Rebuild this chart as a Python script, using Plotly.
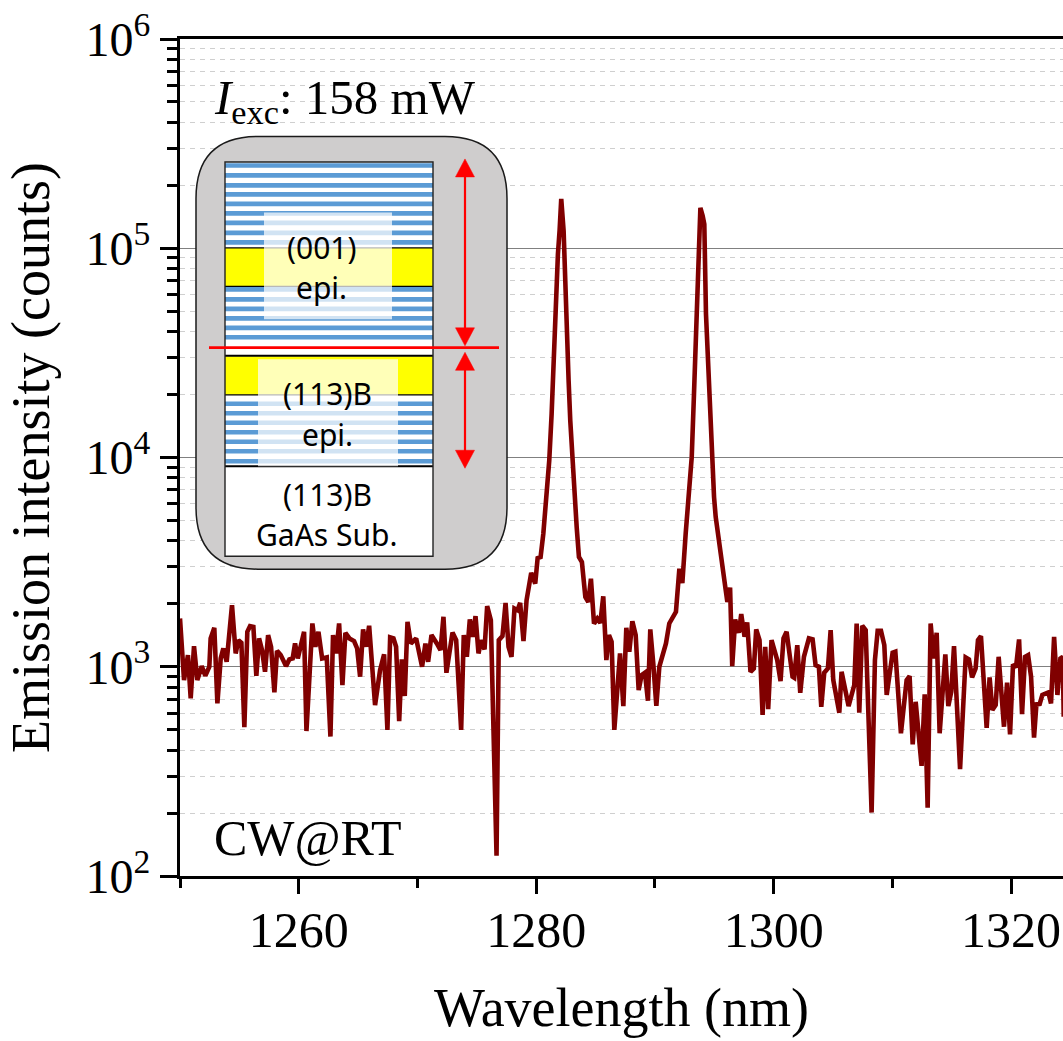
import plotly.graph_objects as go

wavelength_nm = [
1250.00,1250.34,1250.67,1250.90,1251.18,1251.46,1251.83,1252.13,1252.47,1252.58,1252.89,1253.15,1253.43,1253.65,1253.93,
1254.38,1254.69,1254.92,1255.17,1255.42,1255.67,1255.90,1256.18,1256.43,1256.66,1256.91,1257.16,1257.42,1257.67,1257.95,
1258.17,1258.48,1258.93,1259.21,1259.49,1259.69,1259.92,1260.45,1260.65,1261.15,1261.40,1261.66,1261.97,1262.36,1262.67,
1262.89,1263.15,1263.40,1263.68,1263.93,1264.27,1264.66,1264.92,1265.17,1265.42,1265.67,1265.93,1266.43,1266.85,1267.19,
1267.47,1267.70,1267.98,1268.20,1268.46,1268.68,1268.93,1269.16,1269.44,1269.89,1270.39,1270.67,1270.90,1271.18,1271.63,
1271.94,1272.19,1272.44,1272.95,1273.26,1273.68,1273.90,1274.16,1274.41,1274.66,1274.89,1275.14,1275.37,1275.65,1275.87,
1276.18,1276.66,1276.85,1277.16,1277.42,1277.67,1277.92,1278.17,1278.43,1278.65,1278.93,1279.19,1279.58,1279.92,
1280.12,1280.37,1280.60,1280.88,1281.10,1281.30,1281.50,1281.66,1281.83,1281.97,1282.11,1282.31,1282.42,1282.59,1282.73,
1282.87,1283.04,1283.21,1283.41,1283.60,1283.85,1284.14,1284.39,1284.61,1284.87,1285.15,1285.40,1285.65,1285.91,1286.13,
1286.35,1286.58,1287.06,1287.34,1287.59,1287.84,1288.10,1288.38,1288.63,1288.88,1289.16,1289.41,1289.61,1289.86,1290.12,
1290.37,1290.65,1290.93,1291.21,1291.44,1291.77,1292.06,1292.31,1292.59,1292.87,1293.10,1293.29,1293.46,1293.63,1293.83,
1294.02,1294.16,1294.30,1294.47,1294.64,1294.81,1294.98,1295.12,1295.37,1295.63,1295.91,1296.10,1296.33,1296.51,1296.76,
1297.07,1297.27,1297.55,1297.77,1298.05,1298.33,1298.53,1298.81,1299.07,1299.29,1299.54,1299.82,1300.30,1300.58,1300.83,
1301.09,1301.59,1301.73,1301.99,1302.24,1302.55,1302.97,1303.28,1303.53,1303.81,1304.01,1304.26,1304.57,1304.80,1305.02,
1305.53,1305.72,1306.31,1306.79,1306.99,1307.21,1307.46,1307.75,1308.25,1308.53,1308.76,1309.04,1309.32,1309.52,1310.02,
1310.25,1310.72,1311.20,1311.45,1311.71,1311.96,1312.46,1312.72,1312.97,1313.22,1313.48,1313.73,1313.98,1314.46,1314.71,
1314.96,1315.19,1315.70,1316.17,1316.45,1316.71,1317.01,1317.21,1317.46,1317.94,1318.19,1318.42,1318.70,1318.95,1319.40,
1319.66,1319.91,1320.16,1320.41,1320.67,1320.92,1321.17,1321.43,1321.68,1321.93,1322.13,1322.41,1322.63,1323.14,1323.36,
1323.62,1323.90,1324.15,1324.35,1324.43]

intensity_counts = [
1701,864,1137,706,1255,864,1007,905,1000,1366,1535,668,1096,1223,1056,
1969,1158,1341,1302,514,1470,1564,1552,905,1366,1201,946,1417,1246,754,
1192,1137,1007,1084,1096,1292,1096,1470,493,1610,1246,1470,1096,1108,464,
1417,1158,1610,818,1453,1366,1326,1223,896,1508,1246,1570,656,964,1145,
499,1381,1366,1246,550,1084,725,1640,1292,1366,1000,1292,1056,1417,1292,
1201,1733,936,1458,1341,499,1417,1116,1682,1391,1745,1158,1341,1210,1947,
1670,125,1341,1401,2020,1246,1116,1898,1864,2020,1326,2080,2813,2497,
3307,3345,4321,6960,9675,16160,33630,58260,93800,121200,172000,121200,69960,40390,23310,
15010,9675,6467,4650,3345,3165,2154,2039,2635,1607,1698,1619,2170,1076,1417,
1316,499,1158,649,1535,1180,1650,1417,774,912,936,688,1508,1037,651,
1000,1116,1292,1610,1701,1829,2942,2513,4321,6467,10040,20130,40390,93800,156000,
142900,130400,48500,30110,14470,10040,6467,5190,4091,2995,2405,2039,2387,1007,1682,
1453,1784,1391,1628,946,982,1508,1341,588,1246,628,1341,1076,854,1366,
1470,896,886,1269,751,1116,1366,1351,1018,1000,644,936,982,1497,864,
603,946,649,818,1610,603,1570,1497,201,1076,1486,1486,1269,733,1166,
1179,481,864,903,426,680,336,738,212,1610,1096,1453,481,1145,649,
760,1255,324,1108,1084,889,982,1341,1401,511,889,621,656,1116,517,
839,475,1026,993,1351,594,1116,1137,896,458,661,664,733,754,668,
1391,733,1096,1116,577]

x_tick_values = [1260, 1280, 1300, 1320]
y_tick_values = [1e2, 1e3, 1e4, 1e5, 1e6]
x_title = "Wavelength (nm)"
y_title = "Emission intensity (counts)"
power_label = "<i>I</i><sub>exc</sub>: 158 mW"
condition_label = "CW@RT"

W, H = 1063, 1041
L, R, T, B = 180, 1063, 38.5, 876
SERIF = "Liberation Serif"
INSET = "Noto Sans"

def fx(p): return (p - L) / (R - L)
def fy(p): return (B - p) / (B - T)

def rect(x0, y0, x1, y1, fill, line=None, lw=0, opacity=1):
    return dict(type="rect", xref="paper", yref="paper", layer="above",
                x0=fx(x0), x1=fx(x1), y0=fy(y0), y1=fy(y1), fillcolor=fill, opacity=opacity,
                line=dict(color=line or fill, width=lw))

def path(pts, fill=None, color="black", lw=1.5):
    d = ""
    for i, p in enumerate(pts):
        if p[0] == "Q":
            d += f" Q {fx(p[1]):.5f},{fy(p[2]):.5f} {fx(p[3]):.5f},{fy(p[4]):.5f}"
        else:
            d += f" {'M' if i == 0 else 'L'} {fx(p[0]):.5f},{fy(p[1]):.5f}"
    return dict(type="path", xref="paper", yref="paper", layer="above", path=d + (" Z" if fill else ""),
                fillcolor=fill or "rgba(0,0,0,0)", line=dict(color=color, width=lw))

x0, x1, y0, y1, r = 196, 507, 136, 569, 62
shapes = [path([(x0 + r, y0), (x1 - r, y0), ("Q", x1, y0, x1, y0 + r), (x1, y1 - r), ("Q", x1, y1, x1 - r, y1),
                (x0 + r, y1), ("Q", x0, y1, x0, y1 - r), (x0, y0 + r), ("Q", x0, y0, x0 + r, y0)],
               fill="#CFCDCD", color="#1a1a1a", lw=1.5)]
shapes.append(rect(225, 161.5, 433, 556, "white"))
BLUE = "#5B9BD5"
for c in [165, 175, 185, 194, 203.5, 213, 222.5, 232.5, 242,
          289, 299, 308.5, 318, 327.5, 337,
          403.5, 413, 422.5, 432, 441.5, 451, 461]:
    shapes.append(rect(225, c - 2.3, 433, c + 2.3, BLUE))
shapes += [rect(225, 247.5, 433, 286, "#FFFF00"), rect(225, 356, 433, 394.5, "#FFFF00")]
for yy, w in [(247.5, 1.2), (286, 1.2), (355.5, 2), (394.5, 1.2), (466, 2)]:
    shapes.append(path([(225, yy), (433, yy)], lw=w))
shapes += [rect(264, 212, 392, 319, "white", opacity=0.72), rect(258, 359, 398, 466, "white", opacity=0.72)]
shapes.append(rect(225, 161.5, 433, 556, "rgba(0,0,0,0)", line="#222222", lw=1.4))
shapes.append(path([(209, 347.3), (499, 347.3)], color="#FF0000", lw=2.6))
ax = 465
for top, bot in [(158.5, 345.5), (352, 468)]:
    shapes.append(path([(ax, top + 12), (ax, bot - 12)], color="#FF0000", lw=2.2))
    shapes.append(path([(ax, top), (ax - 9.5, top + 18), (ax + 9.5, top + 18)], fill="#FF0000", color="#FF0000", lw=0.5))
    shapes.append(path([(ax, bot), (ax - 9.5, bot - 18), (ax + 9.5, bot - 18)], fill="#FF0000", color="#FF0000", lw=0.5))

def ann(text, px, py, size, family=SERIF, xanchor="center"):
    return dict(text=text, x=fx(px), y=fy(py), xref="paper", yref="paper", showarrow=False,
                font=dict(family=family, size=size, color="black"), xanchor=xanchor, yanchor="middle")

annotations = [
    ann(power_label, 212, 100, 49, xanchor="left"),
    ann(condition_label, 212, 838, 50, xanchor="left"),
    ann("(001)", 321, 247, 30, INSET),
    ann("epi.", 321, 287, 30, INSET),
    ann("(113)B", 327, 393, 30, INSET),
    ann("epi.", 327, 434, 30, INSET),
    ann("(113)B", 327, 494, 30, INSET),
    ann("GaAs Sub.", 327, 534, 30, INSET),
]

fig = go.Figure(go.Scatter(x=wavelength_nm, y=intensity_counts, mode="lines",
                           line=dict(color="#800000", width=4.6), hoverinfo="skip"))
fig.update_layout(
    width=W, height=H, template=None, showlegend=False,
    margin=dict(l=L, r=W - R, t=T, b=H - B, pad=0),
    paper_bgcolor="white", plot_bgcolor="white",
    shapes=shapes, annotations=annotations,
    font=dict(family=SERIF, color="black"),
    xaxis=dict(range=[1250, 1324.37], tickmode="array", tickvals=x_tick_values,
               showgrid=False, zeroline=False, showline=True, linecolor="black", linewidth=3, mirror=True,
               ticks="outside", ticklen=15, tickwidth=3, tickcolor="black", ticklabelstandoff=-7,
               tickfont=dict(family=SERIF, size=50),
               minor=dict(tickmode="array", tickvals=[1250, 1270, 1290, 1310], ticks="outside", ticklen=9,
                          tickwidth=2.5, tickcolor="black", showgrid=False),
               title=dict(text=x_title, font=dict(family=SERIF, size=54), standoff=32)),
    yaxis=dict(type="log", range=[2, 6], tickmode="array", tickvals=y_tick_values,
               ticktext=["10<sup>2</sup>", "10<sup>3</sup>", "10<sup>4</sup>", "10<sup>5</sup>", "10<sup>6</sup>"],
               showgrid=True, gridcolor="#808080", gridwidth=1.3, zeroline=False,
               showline=True, linecolor="black", linewidth=3, mirror=True,
               ticks="outside", ticklen=17, tickwidth=3, tickcolor="black",
               tickfont=dict(family=SERIF, size=48),
               minor=dict(dtick="D1", ticks="outside", ticklen=10, tickwidth=2.5, tickcolor="black",
                          showgrid=True, gridcolor="#cfcfcf", griddash="5px,5px", gridwidth=1.2),
               title=dict(text=y_title, font=dict(family=SERIF, size=54), standoff=19)),
)
fig.write_html("out.html", post_script="document.body.style.margin='0';document.body.style.overflow='hidden';",
               config=dict(displayModeBar=False))
